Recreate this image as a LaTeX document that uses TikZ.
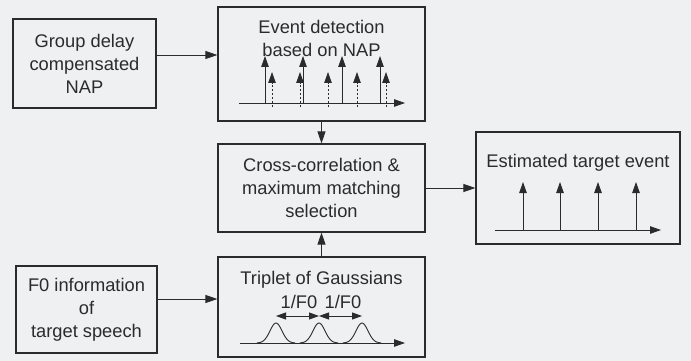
\documentclass[tikz,border=0pt]{standalone}
\usepackage{fontspec}
\setmainfont{Liberation Sans}
\usetikzlibrary{arrows.meta, positioning, calc}
\definecolor{bg}{HTML}{EFF0F1}
\definecolor{ink}{HTML}{2B2B2B}

\begin{document}
\begin{tikzpicture}[x=1pt, y=-1pt,
    txt/.style={text=ink, align=center, inner sep=0pt, font=\fontsize{18.3}{23}\selectfont},
    block/.style={txt, draw=ink, line width=1.2pt, rectangle},
    flow/.style={draw=ink, line width=0.9pt, -{Triangle[length=12pt, width=8pt]}},
    spike/.style={draw=ink, line width=0.9pt, -{Triangle[length=11pt, width=7.5pt]}},
    twoway/.style={draw=ink, line width=0.9pt, {Triangle[length=10pt, width=7pt]}-{Triangle[length=10pt, width=7pt]}}]
  \useasboundingbox[fill=bg] (0,0) rectangle (691,361);

  % blocks
  \node[block, minimum width=143pt, minimum height=89pt] (gd) at (84.5,63.5) {Group delay\\compensated\\NAP};
  \node[block, minimum width=207pt, minimum height=114pt] (ev) at (321.5,64) {};
  \node[block, minimum width=207pt, minimum height=88pt] (cc) at (321.5,188) {Cross-correlation \&\\maximum matching\\selection};
  \node[block, minimum width=204pt, minimum height=112pt] (est) at (578,188) {};
  \node[block, minimum width=141pt, minimum height=87pt] (f0) at (86.5,309.5) {F0 information\\of\\target speech};
  \node[block, minimum width=207pt, minimum height=100pt] (trip) at (321.5,307) {};

  \node[txt] (evlabel) at (321.5,38) {Event detection\\based on NAP};
  \node[txt] (estlabel) at (578,163) {Estimated target event};
  \node[txt] (triplabel) at (321.5,280) {Triplet of Gaussians};

  % connectors
  \draw[flow] ([yshift=8.5pt]gd.east) -- ([yshift=8.5pt]gd.east -| ev.west);
  \draw[flow] ([yshift=10.5pt]f0.east) -- ([yshift=10.5pt]f0.east -| trip.west);
  \draw[flow] (ev.south) -- (cc.north);
  \draw[flow] (trip.north) -- (cc.south);
  \draw[flow] (cc.east) -- (est.west);

  % detected events
  \draw[spike] (239,103) -- (405,103);
  \foreach \x in {265,303,342,380}
    \draw[spike] (\x,103) -- (\x,56);
  \foreach \x in {272,300,328,357,386}
    \draw[spike, dash pattern=on 2pt off 2pt] (\x,107) -- (\x,72);

  % estimated events
  \draw[spike] (495,230) -- (661,230);
  \foreach \x in {523,560,598,636}
    \draw[spike] (\x,230) -- (\x,182);

  % gaussians
  \draw[spike] (240,343) -- (405,343);
  \foreach \p in {276,319,362}
    \draw[ink, line width=0.9pt] plot[domain=-19:19, samples=39, smooth] ({\p+\x}, {343-20*exp(-((\x/6)^2)/2)});
  \draw[twoway] (276,316) -- (319,316);
  \draw[twoway] (319,316) -- (362,316);
  \node[txt] (per1) at (299,302) {1/F0};
  \node[txt] (per2) at (343,302) {1/F0};
\end{tikzpicture}
\end{document}
